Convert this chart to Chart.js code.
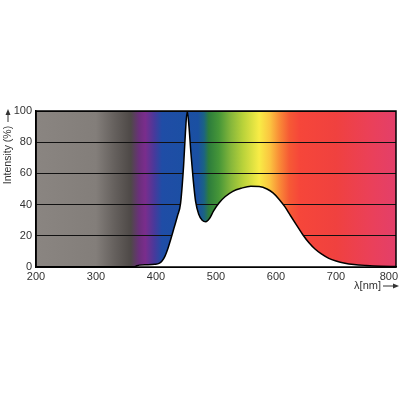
<!DOCTYPE html>
<html>
<head>
    <title>Spectral Power Distribution</title>
    <script src="https://cdn.jsdelivr.net/npm/chart.js@4"></script>
    <style>
        body { margin: 0; background: #fff; }
        #wrap { width: 400px; height: 400px; }
    </style>
</head>
<body>
    <div id="wrap"><canvas id="spdChart" width="400" height="400"></canvas></div>

    <script>
        // Spectrum data
        const wavelengths = [200, 360, 366, 372, 385, 398, 405, 410, 415, 420, 424, 430, 436, 441, 446, 449, 452, 455, 458, 462, 466, 471, 477, 483, 489, 496, 505, 515, 528, 542, 558, 572, 585, 595, 605, 615, 624, 634, 645, 655, 665, 675, 688, 700, 715, 730, 750, 775, 800];
        const intensity   = [0,   0,   0.4, 1.2, 1.4, 1.7, 2.3, 3.8, 7,   12,  17,  25,  33,  41,  65,  86,  100, 90,  74,  56,  42,  34,  30,  29,  31,  36,  41,  45,  48.5, 50.5, 51.8, 51.6, 50, 47.5, 43.5, 38.5, 33, 27, 20.5, 15.5, 11.5, 8.5, 5.5, 3.8, 2.4, 1.6, 1, 0.5, 0.3];

        const xTicks = [200, 300, 400, 500, 600, 700, 800];
        const yTicks = [0, 20, 40, 60, 80, 100];

        // background spectrum colours: [wavelength, colour]
        const spectrumStops = [
            [200, '#8a8581'], [300, '#837e7a'], [330, '#66615e'], [358, '#4e4947'],
            [372, '#6b2f7c'], [382, '#7a2d8c'], [398, '#463a9c'], [410, '#1f4da6'],
            [470, '#1a50a2'], [480, '#1b6384'], [488, '#2d7d3c'], [505, '#469638'],
            [525, '#86b73b'], [545, '#b9d23a'], [572, '#f8ec46'], [590, '#fbc440'],
            [605, '#f98d37'], [622, '#f65a35'], [640, '#f6463a'], [700, '#f0413f'],
            [760, '#ea405a'], [800, '#e33f6a']
        ];

        const FONT = '"Liberation Sans", Arial, sans-serif';

        const spectrumBg = {
            id: 'spectrumBg',
            beforeDraw(chart) {
                const { ctx, chartArea: a, scales: { x } } = chart;
                const g = ctx.createLinearGradient(a.left, 0, a.right, 0);
                const w = a.right - a.left;
                spectrumStops.forEach(([nm, c]) => {
                    const p = (x.getPixelForValue(nm) - a.left) / w;
                    g.addColorStop(Math.min(1, Math.max(0, p)), c);
                });
                ctx.save();
                ctx.fillStyle = g;
                ctx.fillRect(a.left, a.top, w, a.bottom - a.top);
                ctx.restore();
            },
            afterDraw(chart) {
                const { ctx, chartArea: a, scales: { x } } = chart;
                ctx.save();
                ctx.strokeStyle = '#000';
                ctx.lineWidth = 1.5;
                ctx.strokeRect(a.left, a.top, a.right - a.left, a.bottom - a.top);

                ctx.fillStyle = '#333';
                ctx.strokeStyle = '#333';
                ctx.lineWidth = 1;
                ctx.font = '11px ' + FONT;

                // x tick labels, the last one kept inside the canvas
                ctx.textAlign = 'center';
                ctx.textBaseline = 'top';
                xTicks.forEach(v => {
                    const label = String(v);
                    const half = ctx.measureText(label).width / 2;
                    const px = Math.min(x.getPixelForValue(v), chart.width - half - 2);
                    ctx.fillText(label, px, a.bottom + 4);
                });

                // x axis title with arrow
                ctx.textAlign = 'right';
                ctx.textBaseline = 'middle';
                ctx.fillText('λ[nm]', 381, 286);
                ctx.beginPath();
                ctx.moveTo(383, 286); ctx.lineTo(394, 286); ctx.stroke();
                ctx.beginPath();
                ctx.moveTo(399, 286); ctx.lineTo(393, 283.5); ctx.lineTo(393, 288.5); ctx.closePath(); ctx.fill();

                // y axis title with arrow
                ctx.font = '10.5px ' + FONT;
                ctx.translate(8, 155);
                ctx.rotate(-Math.PI / 2);
                ctx.textAlign = 'center';
                ctx.fillText('Intensity (%)', 0, 0);
                ctx.beginPath();
                ctx.moveTo(33, 0); ctx.lineTo(42, 0); ctx.stroke();
                ctx.beginPath();
                ctx.moveTo(46, 0); ctx.lineTo(40, -2.5); ctx.lineTo(40, 2.5); ctx.closePath(); ctx.fill();
                ctx.restore();
            }
        };

        const ctx = document.getElementById('spdChart').getContext('2d');
        const chart = new Chart(ctx, {
            type: 'line',
            data: {
                datasets: [{
                    data: wavelengths.map((nm, i) => ({ x: nm, y: intensity[i] })),
                    borderColor: '#000',
                    borderWidth: 1.5,
                    backgroundColor: '#ffffff',
                    fill: 'origin',
                    pointRadius: 0,
                    cubicInterpolationMode: 'monotone'
                }]
            },
            options: {
                responsive: false,
                animation: false,
                events: [],
                layout: { padding: { top: 111, right: 4, bottom: 113, left: 0 } },
                plugins: { legend: { display: false }, tooltip: { enabled: false } },
                scales: {
                    x: {
                        type: 'linear',
                        min: 200,
                        max: 800,
                        afterBuildTicks: s => { s.ticks = xTicks.map(v => ({ value: v })); },
                        afterFit: s => { s.height = 20; s.paddingLeft = 0; s.paddingRight = 0; },
                        grid: { display: false, drawTicks: false },
                        border: { display: true, color: '#000', width: 1.5 },
                        ticks: { display: false }
                    },
                    y: {
                        min: 0,
                        max: 100,
                        afterBuildTicks: s => { s.ticks = yTicks.map(v => ({ value: v })); },
                        afterFit: s => { s.width = 36; s.paddingTop = 0; s.paddingBottom = 0; },
                        grid: { color: '#111', lineWidth: 1, drawTicks: false },
                        border: { display: true, color: '#000', width: 1.5 },
                        ticks: {
                            color: '#333',
                            padding: 4,
                            font: { family: FONT, size: 11 }
                        }
                    }
                }
            },
            plugins: [spectrumBg]
        });
    </script>
</body>
</html>
